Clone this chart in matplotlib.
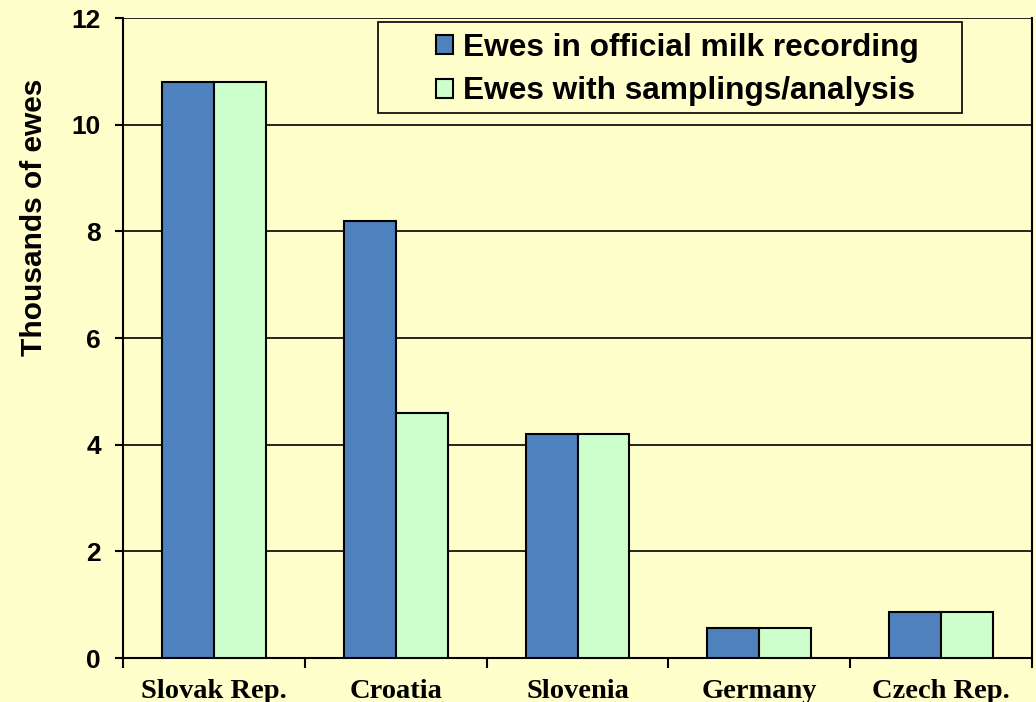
import matplotlib
matplotlib.use("Agg")
import matplotlib.pyplot as plt
from matplotlib.patches import Rectangle
import numpy as np

countries = ["Slovak Rep.", "Croatia", "Slovenia", "Germany", "Czech Rep."]
ewes_recording = [10.8, 8.2, 4.2, 0.56, 0.86]
ewes_sampling = [10.8, 4.6, 4.2, 0.56, 0.86]
series_names = ["Ewes in official milk recording", "Ewes with samplings/analysis"]
y_ticks = [0, 2, 4, 6, 8, 10, 12]

bg = "#FFFFCC"
blue = "#4F81BD"
green = "#CCFFCC"

W, H = 1036, 702
fig = plt.figure(figsize=(W / 100, H / 100), dpi=100, facecolor=bg)
ax = fig.add_axes([123 / W, 44 / H, 909 / W, 640 / H], facecolor=bg)

x = np.arange(len(countries))
w = 1 / 3.5
ax.bar(x - w / 2, ewes_recording, width=w, color=blue, edgecolor="black",
       linewidth=1.5, label=series_names[0], zorder=3)
ax.bar(x + w / 2, ewes_sampling, width=w, color=green, edgecolor="black",
       linewidth=1.5, label=series_names[1], zorder=3)

ax.set_xlim(-0.5, len(countries) - 0.5)
ax.set_ylim(0, 12)
ax.set_yticks(y_ticks)
ax.yaxis.grid(True, color="black", linewidth=1.2, zorder=0)

ax.set_xticks(x)
ax.set_xticklabels(countries, fontfamily="Liberation Serif", fontweight="bold", fontsize=20.5)
ax.set_xticks(np.arange(len(countries) + 1) - 0.5, minor=True)
ax.tick_params(axis="x", which="major", length=0, pad=15)
ax.tick_params(axis="x", which="minor", length=7, width=1.5, direction="out")
ax.tick_params(axis="y", length=6, width=1.5, direction="out", pad=10)
for lbl in ax.get_yticklabels():
    lbl.set_fontfamily("Liberation Sans")
    lbl.set_fontweight("bold")
    lbl.set_fontsize(19)

for side in ["left", "bottom", "right"]:
    ax.spines[side].set_linewidth(1.5)
    ax.spines[side].set_color("black")
ax.spines["top"].set_visible(False)

fig.text(34 / W, (H - 217) / H, "Thousands of ewes", rotation=90, ha="center", va="center",
         fontfamily="Liberation Sans", fontweight="bold", fontsize=21.5)

# legend box drawn separately so the entries sit inset from its left edge
box = Rectangle((378 / W, (H - 113) / H), 584 / W, 91 / H,
                transform=fig.transFigure, facecolor=bg, edgecolor="black",
                linewidth=1.2, zorder=4, clip_on=False)
ax.add_patch(box)
leg = ax.legend(loc="upper left", bbox_to_anchor=(436 / W, (H - 33) / H),
                bbox_transform=fig.transFigure, frameon=False,
                prop={"family": "Liberation Sans", "weight": "bold", "size": 22.8},
                handlelength=0.55, handleheight=0.55, handletextpad=0.3,
                borderpad=0, labelspacing=0.42, borderaxespad=0)
leg.set_zorder(5)
for h in leg.legend_handles:
    h.set_linewidth(1.5)

fig.savefig("out.png", dpi=100, facecolor=bg)
